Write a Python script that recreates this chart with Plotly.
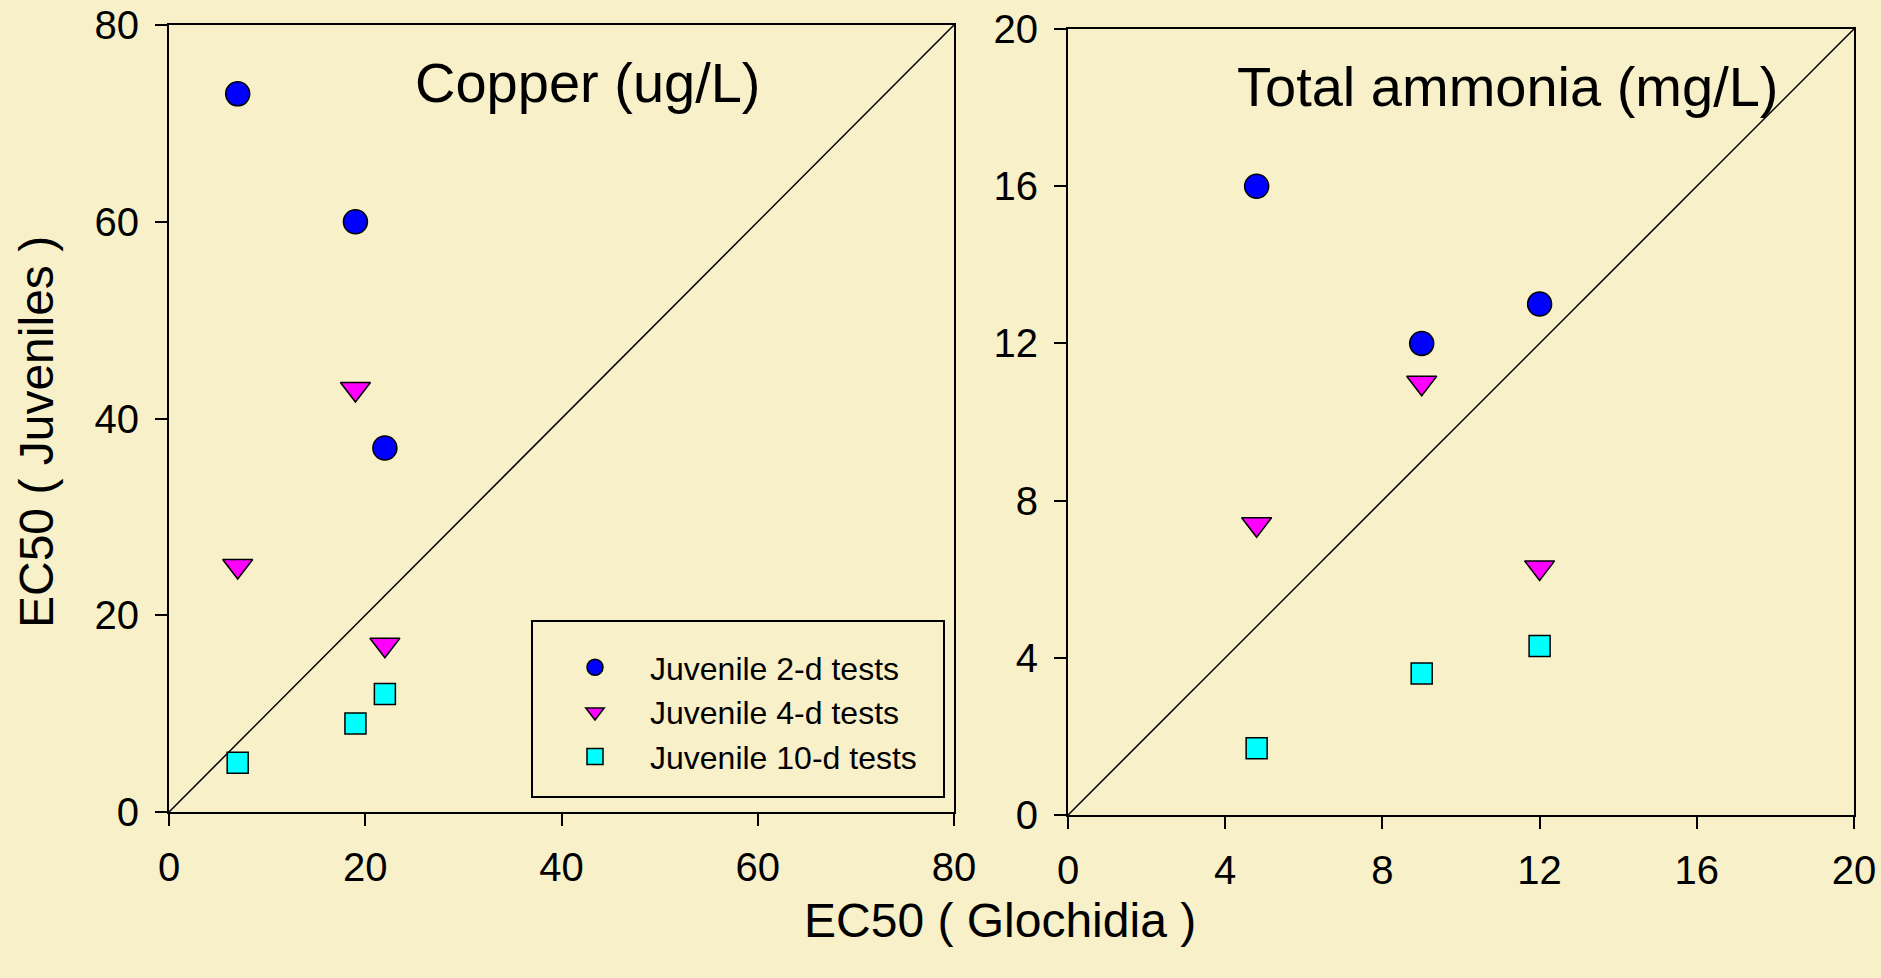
import plotly.graph_objects as go

# ---- data ----
series_names = ["Juvenile 2-d tests", "Juvenile 4-d tests", "Juvenile 10-d tests"]
copper_glochidia = [7, 19, 22]
copper_2d = [73, 60, 37]
copper_4d = [25, 43, 17]
copper_10d = [5, 9, 12]

ammonia_glochidia = [4.8, 9, 12]
ammonia_2d = [16, 12, 13]
ammonia_4d = [7.4, 11, 6.3]
ammonia_10d = [1.7, 3.6, 4.3]

copper_ticks = [0, 20, 40, 60, 80]
ammonia_ticks = [0, 4, 8, 12, 16, 20]

panel_titles = ["Copper (ug/L)", "Total ammonia (mg/L)"]
x_title = "EC50 ( Glochidia )"
y_title = "EC50 ( Juveniles )"

# ---- style ----
BG = "#F7F0C8"
FONT = "Liberation Sans, Arial, sans-serif"
W, H = 1881, 978
styles = [
    dict(symbol="circle", color="#0000FF", size=24),
    dict(symbol="triangle-down", color="#FF00FF", size=26),
    dict(symbol="square", color="#00FFFF", size=21),
]

fig = go.Figure()

copper_series = [copper_2d, copper_4d, copper_10d]
ammonia_series = [ammonia_2d, ammonia_4d, ammonia_10d]

for i, (name, ys) in enumerate(zip(series_names, copper_series)):
    st = styles[i]
    fig.add_trace(go.Scatter(
        x=copper_glochidia, y=ys, mode="markers", name=name,
        marker=dict(symbol=st["symbol"], color=st["color"], size=st["size"],
                    line=dict(color="black", width=1.5)),
        xaxis="x", yaxis="y", showlegend=True, cliponaxis=False))
for i, (name, ys) in enumerate(zip(series_names, ammonia_series)):
    st = styles[i]
    fig.add_trace(go.Scatter(
        x=ammonia_glochidia, y=ys, mode="markers", name=name,
        marker=dict(symbol=st["symbol"], color=st["color"], size=st["size"],
                    line=dict(color="black", width=1.5)),
        xaxis="x2", yaxis="y2", showlegend=False, cliponaxis=False))

# 1:1 lines
fig.add_shape(type="line", xref="x", yref="y", x0=copper_ticks[0], y0=copper_ticks[0],
              x1=copper_ticks[-1], y1=copper_ticks[-1], line=dict(color="black", width=1.5))
fig.add_shape(type="line", xref="x2", yref="y2", x0=ammonia_ticks[0], y0=ammonia_ticks[0],
              x1=ammonia_ticks[-1], y1=ammonia_ticks[-1], line=dict(color="black", width=1.5))

# legend frame
fig.add_shape(type="rect", xref="paper", yref="paper",
              x0=532 / W, x1=944 / W, y0=1 - 797 / H, y1=1 - 621 / H,
              line=dict(color="black", width=2), fillcolor="rgba(0,0,0,0)")

axis_common = dict(showline=True, linecolor="black", linewidth=2, mirror=True,
                   ticks="outside", ticklen=12, tickwidth=2, tickcolor="black",
                   showgrid=False, zeroline=False, automargin=False,
                   tickfont=dict(family=FONT, size=40, color="black"))

fig.update_layout(
    width=W, height=H,
    paper_bgcolor=BG, plot_bgcolor=BG,
    margin=dict(l=0, r=0, t=0, b=0, autoexpand=False),
    font=dict(family=FONT, color="black"),
    xaxis=dict(domain=[169 / W, 954 / W], range=[copper_ticks[0], copper_ticks[-1]],
               tickvals=copper_ticks, anchor="y", ticklabelstandoff=7, **axis_common),
    yaxis=dict(domain=[1 - 812 / H, 1 - 25 / H], range=[copper_ticks[0], copper_ticks[-1]],
               tickvals=copper_ticks, anchor="x", ticklabelstandoff=8, **axis_common),
    xaxis2=dict(domain=[1068 / W, 1854 / W], range=[ammonia_ticks[0], ammonia_ticks[-1]],
                tickvals=ammonia_ticks, anchor="y2", ticklabelstandoff=7, **axis_common),
    yaxis2=dict(domain=[1 - 815 / H, 1 - 29 / H], range=[ammonia_ticks[0], ammonia_ticks[-1]],
                tickvals=ammonia_ticks, anchor="x2", ticklabelstandoff=8, **axis_common),
    legend=dict(x=540 / W, y=1 - 640 / H, xanchor="left", yanchor="top",
                bgcolor="rgba(0,0,0,0)", borderwidth=0, itemwidth=100,
                font=dict(family=FONT, size=32, color="black"), tracegroupgap=0),
    showlegend=True,
)

ann_common = dict(xref="paper", yref="paper", showarrow=False,
                  xanchor="center", yanchor="middle")
annotations = [
    dict(text=panel_titles[0], x=588 / W, y=1 - 82 / H,
         font=dict(family=FONT, size=56, color="black"), **ann_common),
    dict(text=panel_titles[1], x=1508 / W, y=1 - 86 / H,
         font=dict(family=FONT, size=56, color="black"), **ann_common),
    dict(text=x_title, x=1000 / W, y=1 - 920 / H,
         font=dict(family=FONT, size=48, color="black"), **ann_common),
    dict(text=y_title, x=36 / W, y=1 - 432 / H, textangle=-90,
         font=dict(family=FONT, size=48, color="black"), **ann_common),
]
fig.update_layout(annotations=annotations)

fig.write_html("out.html", config={"displayModeBar": False},
               post_script="document.body.style.margin='0';document.body.style.overflow='hidden';")
